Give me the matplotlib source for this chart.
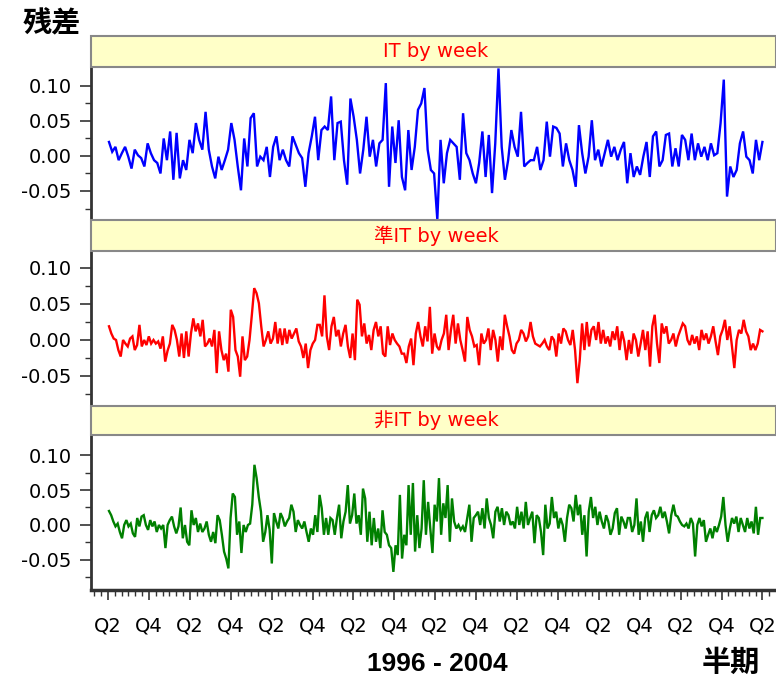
import numpy as np
import matplotlib.pyplot as plt
from matplotlib.patches import Rectangle
from matplotlib.ticker import MultipleLocator, FixedLocator, FixedFormatter

plt.rcParams['font.family'] = ['DejaVu Sans', 'Noto Sans CJK JP']

# --- データ (単位: 0.01) ---
it_week = [
    2.0, 0.6, 1.3, -0.6, 0.4, 1.3, -0.1, -1.8, 0.9, 0.1,
    -0.3, -1.5, 1.8, 0.4, -0.6, -1.0, -2.5, 2.5, -0.6, 3.5,
    -3.4, 3.3, -3.2, -0.6, -2.0, 2.3, 0.4, 4.7, 2.3, 0.9,
    6.3, 0.9, -1.5, -3.2, -0.1, -2.0, -0.6, 0.9, 4.7, 2.3,
    -1.5, -4.9, 2.5, -1.5, 5.4, 6.1, -1.5, -0.1, -0.6, 1.3,
    -3.0, 1.3, 2.8, -0.6, 0.9, -0.6, -1.5, 2.8, 1.6, 0.4,
    -0.3, -4.4, 0.4, 2.8,
    5.6, -0.6, 3.7, 4.2, 3.7, 8.5, -0.6, 4.7, 4.9, -0.6,
    -4.1, 8.2, 5.6, 2.3, -2.5, 0.9, 5.6, -0.1, 2.3, -1.5,
    1.8, 2.3, 10.4, -4.4, 4.2, -1.0, 5.1, -3.0, -4.9, 3.7,
    -2.0, 1.3, 6.6, 7.5, 9.7, 0.9, -2.0, -2.5, -9.1, 2.3,
    -3.9, 0.4, 2.3, 1.8, 1.3, -3.4, 6.1, 0.4, -0.6, -2.5,
    -3.9, -1.0, 3.5, -3.0, 3.0, -5.3, 1.8, 12.5, 1.3, -3.4,
    -0.6, 3.7, 1.3, -0.1, 6.3, -1.5, -1.0, -0.6,
    -0.6, 1.3, -2.0, -0.6, 4.9, -0.1, 4.2, 4.0, 3.2, -1.5,
    1.8, -0.6, -2.0, -4.4, 4.4, 0.4, -2.5, -0.1, 5.1, -0.6,
    0.9, -1.5, 0.4, 2.3, -0.1, 1.3, -0.6, 0.9, 2.0, -3.9,
    0.4, -3.0, -1.5, -2.7, -0.1, 2.0, -3.0, 2.8, 3.5, -1.5,
    -0.6, 3.0, 3.2, -1.5, 1.1, -1.5, 3.0, 2.3, -0.6, 3.2,
    -0.6, 1.8, -0.1, 1.3, -0.6, 1.8, 0.1, 0.4, 4.7, 10.9,
    -5.8, -1.5, -3.0, -2.0, 1.8, 3.5, -0.1, -0.6, -2.5, 2.3,
    -0.6, 2.0,
]

jun_it_week = [
    1.9, 0.9, 0.2, 0.0, -1.4, -2.3, 0.0, -0.5, -0.9, 0.2,
    0.5, -1.4, -0.7, 2.1, -0.9, 0.0, -0.7, 0.5, -0.5, 0.0,
    -0.5, -0.2, -1.2, 0.5, -3.0, -1.5, -0.5, 2.1, 1.4, 0.0,
    -2.3, 0.9, -2.5, 1.2, -2.3, 0.9, 3.0, 1.2, 2.3, 0.5,
    2.8, -0.9, -0.5, 0.2, -0.9, 1.4, -4.6, 1.2, -1.4, -2.8,
    -1.9, -4.4, 4.2, 3.2, -1.4, -2.3, -5.1, 0.5, -2.8, -2.3,
    0.0, 3.5, 7.2, 6.5, 5.1, 1.9, -0.9, 0.0, 1.2, -0.5,
    0.2, 2.5, -0.5, 1.6, -0.7, 1.6, -0.5, 1.4, 0.2, 0.9,
    1.6, -0.2, -0.9, -2.5, -0.5, -3.9, -1.4, -0.5, 0.0, 2.1,
    2.1, 0.5, 6.2, 0.5, -1.4, 1.9, 3.2, 0.5, 1.4, -0.9,
    0.9, 2.1, -0.9, -2.5, 0.9, -2.8, 5.6, 4.9, 0.5, 2.3,
    -0.5, 0.7, -1.4, 1.4, 2.5, 0.5, 1.9, -1.9, -2.3, 1.9,
    -0.7, 0.9, 0.0, -0.5, -0.9, -1.9, -1.9, -3.2, -0.9, 0.2,
    -3.5, 0.9, 2.5, 0.5, -0.9, 1.9, -0.2, 4.6, -1.9, 0.9,
    -0.9, -1.4, 0.0, 0.9, 3.5, -1.4, 1.4, 3.5, -0.5, 2.3,
    0.0, -1.4, -3.0, 3.2, 1.4, 0.5, -0.9, -0.7, -3.5, 0.9,
    -0.5, 0.0, 1.6, -1.4, 1.4, 0.0, -3.0, 0.5, -1.4, 3.5,
    1.9, 0.5, -1.4, -1.9, -0.5, 0.0, 1.4, 0.9, -0.2, 0.5,
    2.5, 0.5, -0.5, -0.7, -0.9, -0.5,
    0.0, -0.9, -1.4, 0.5, 0.0, -2.3, 0.9, -0.5, 1.6, 1.2,
    0.0, -0.7, 1.4, -1.4, -6.0, -2.8, 2.3, -1.4, 2.5, -0.9,
    1.4, 1.9, 0.0, 2.5, -0.5, 1.4, -0.5, 0.5, -0.9, 1.2,
    0.0, 1.9, -1.4, 1.2, -0.2, -2.8, 0.0, -1.9, 0.9, 0.0,
    -2.3, -0.5, 1.4, -1.4, 1.2, -3.7, 1.9, 3.5, -0.5, -3.2,
    2.3, 0.9, 1.9, -0.5, 0.0, 0.9, -0.9, 0.5, 1.4, 2.3,
    1.9, 0.0, -0.7, 0.7, -0.5, 0.5, -1.4, 1.4, 0.0, 0.9,
    -0.5, 0.5, 1.9, -0.2, -2.1, 0.5, 1.4, 2.8, 0.0, 1.9,
    -0.9, -3.9, 0.0, 1.4, 0.9, 2.8, 1.2, 0.5, -1.4, -0.5,
    -1.4, -0.5, 1.4, 1.2,
]

hi_it_week = [
    2.0, 1.4, 0.5, -0.2, 0.2, -1.0, -1.9, 0.0, 0.7, -0.2,
    0.2, -1.2, -1.7, 1.0, -0.2, 1.2, 1.4, 0.0, -0.7, 0.7,
    -0.2, 0.5, -1.0, 0.0, -0.5, 0.0, -3.3, 0.0, 0.7, 1.2,
    -0.2, -1.2, -0.2, 2.5, -1.9, 0.0, -2.4, -2.9, 2.1, 0.0,
    1.0, -1.0, 0.2, -1.0, -0.5, 0.5, -1.4, -2.4, -1.0, -2.6,
    1.4, 0.7, -1.4, -3.8, -4.8, -6.2, 1.0, 4.5, 4.0, -1.4,
    0.5, -4.0, 0.0, -1.0, 0.0, 0.2, 2.9, 8.6, 6.7, 4.0,
    1.9, -2.4, -1.0, 1.4, -0.7, -5.5, 1.7, 0.5, -0.5, 1.7,
    1.0, -0.2, 0.5, 1.0, 2.9, 1.9, -1.0, 0.7, 0.0, -0.5,
    0.5, -1.0, -2.4, -0.5, -1.4, 1.4,
    -1.0, 4.3, 2.4, -1.4, 1.0, -1.4, 1.0, 0.7, -1.4, 1.0,
    2.9, -1.9, 0.5, 1.9, 5.7, 0.2, 1.4, 4.5, 0.2, 1.4,
    -1.4, 5.2, 3.8, -2.4, 1.9, -2.9, 1.0, -2.4, -0.5, -3.3,
    2.1, -1.0, -1.4, -2.9, -3.3, -6.7, -2.9, -4.3, 4.3, -4.8,
    -1.4, -2.9, 5.7, -1.4, 6.0, -3.8, 1.4, -3.3, -0.5, 6.4,
    -1.4, 3.3, -0.5, -4.0, 2.9, 0.5, 6.7, -1.4, 3.1, 1.0,
    5.7, -2.4, 3.8, 0.5, -0.5, 0.0, -0.7, -0.2, -1.0, 1.0,
    2.9, -2.4, 1.0, 1.4, 1.9, 0.0, 2.4, -0.5, 3.8, 1.0,
    0.0, -1.9, 1.9, 2.6, 0.5, 2.4, 0.0, 1.9, 1.4, 0.0,
    0.5, -0.5, 2.6, 0.0, 1.9, -0.5, 3.3, 0.0, 1.0,
    1.9, -2.6, 1.4, 1.0, -1.0, -4.3, 2.9, -0.5, 0.2, 4.0,
    1.0, 1.9, -0.5, 1.0, 0.0, -2.4, 1.0, 2.9, 2.4, 0.5,
    4.3, 1.4, 2.9, -1.4, 1.4, -4.5, 1.9, 4.0, 1.0, 2.6,
    0.0, 1.9, 0.5, -0.5, 1.4, 0.5, -1.4, -0.5, 1.7, 2.4,
    -1.4, 1.2, 0.5, -0.5, 1.0, 1.0, -1.0, 0.0, 3.8, -1.4,
    0.5, -2.4, 1.0, 1.9, -1.0, 1.4, 2.1, 1.0, 1.4, 2.6,
    1.0, 1.9, 0.5, -1.2, 1.4, 2.9, 1.4, 1.2, 0.5, 0.0,
    -0.2, 0.2, -0.5, 1.0, 0.2, -4.5, 0.0, 1.0, -0.2, 0.7,
    -2.4, -1.4, -0.5, -1.9, -0.2, -1.0, 0.0, 1.2, 4.0, 0.0,
    -2.4, -0.5, 1.0, 0.2, 1.2, -1.0, 1.0, 0.0, -1.0, 1.0,
    -0.5, 0.5, -1.2, 2.6, -1.4, 1.0, 1.0,
]

panel_titles = ["IT by week", "準IT by week", "非IT by week"]
panel_series = [it_week, jun_it_week, hi_it_week]
panel_colors = ["#0000ff", "#ff0000", "#008000"]
# 縦軸の表示範囲
panel_ylims = [(-0.0914, 0.127), (-0.0917, 0.1236), (-0.0929, 0.1286)]

# 横軸: 1996 Q2 ～ 2004 Q2 (半期ごとの目盛)
x_start, x_end = 1996.262, 2004.25
half_ticks = [1996.25 + 0.5 * k for k in range(17)]
half_labels = ["Q2" if k % 2 == 0 else "Q4" for k in range(17)]

W, H = 776, 678
fig = plt.figure(figsize=(W / 100, H / 100), dpi=100)

left_px = 91
# (見出し上端, 描画域上端, 描画域下端) ピクセル
rows = [(36, 67, 220), (220, 251, 406), (406, 435, 590)]

for i, (h_top, p_top, p_bot) in enumerate(rows):
    ax = fig.add_axes([left_px / W, 1 - p_bot / H, 1 - left_px / W, (p_bot - p_top) / H])
    vals = np.array(panel_series[i]) / 100.0
    x = np.linspace(x_start, x_end, len(vals))
    ax.plot(x, vals, color=panel_colors[i], lw=1.7, solid_joinstyle='miter')
    ax.set_xlim(1996.042, 2004.416)
    ax.set_ylim(*panel_ylims[i])

    ax.yaxis.set_major_locator(FixedLocator([-0.05, 0.0, 0.05, 0.10]))
    ax.yaxis.set_major_formatter(FixedFormatter(["-0.05", "0.00", "0.05", "0.10"]))
    ax.yaxis.set_minor_locator(FixedLocator([-0.075, -0.025, 0.025, 0.075]))
    ax.tick_params(axis='y', which='major', length=8, width=1.2, pad=6,
                   labelsize=14, color='#333333')
    ax.tick_params(axis='y', which='minor', length=4, width=1.0, color='#333333')

    for s in ['top', 'right']:
        ax.spines[s].set_visible(False)
    ax.spines['left'].set_linewidth(2)
    ax.spines['left'].set_color('#333333')

    if i < 2:
        ax.spines['bottom'].set_visible(False)
        ax.set_xticks([])
    else:
        ax.spines['bottom'].set_linewidth(2.5)
        ax.spines['bottom'].set_color('#333333')
        ax.set_xticks(half_ticks)
        ax.set_xticklabels(half_labels)
        ax.xaxis.set_minor_locator(MultipleLocator(1 / 12))
        ax.tick_params(axis='x', which='major', length=7, width=1.2, pad=12,
                       labelsize=14, color='#333333')
        ax.tick_params(axis='x', which='minor', length=4, width=1.0, color='#333333')

    # 見出し帯
    rect = Rectangle((left_px / W, 1 - p_top / H), 1 - left_px / W, (p_top - h_top) / H,
                     transform=fig.transFigure, facecolor='#ffffc8',
                     edgecolor='#888888', lw=1.5, zorder=5)
    fig.patches.append(rect)
    fig.text(436 / W, 1 - (h_top + p_top) / 2 / H, panel_titles[i],
             color='red', fontsize=14, ha='center', va='center', zorder=6)

fig.text(52 / W, 1 - 23 / H, "残差", fontsize=21, fontweight='bold',
         family=['Noto Sans CJK JP'], ha='center', va='center')
fig.text(437 / W, 1 - 664 / H, "1996 - 2004", fontsize=19, fontweight='bold',
         family=['Liberation Sans'], ha='center', va='center')
fig.text(731 / W, 1 - 662 / H, "半期", fontsize=21, fontweight='bold',
         family=['Noto Sans CJK JP'], ha='center', va='center')

fig.savefig("out.png", dpi=100)
